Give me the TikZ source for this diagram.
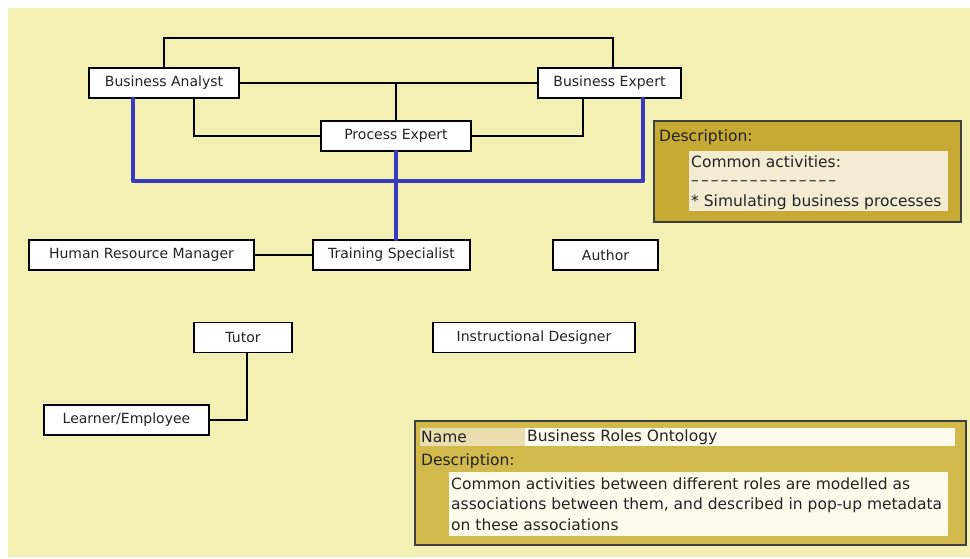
\documentclass[tikz,border=0pt]{standalone}
\usepackage{fontspec}
\setmainfont{DejaVu Sans}
\definecolor{bgyellow}{RGB}{243,240,180}
\definecolor{gold1}{RGB}{199,170,52}
\definecolor{gold2}{RGB}{210,185,75}
\definecolor{panel1}{RGB}{243,236,210}
\definecolor{panel2}{RGB}{252,251,236}
\definecolor{nametag}{RGB}{234,222,176}
\definecolor{assocblue}{RGB}{58,58,190}
\definecolor{txt}{RGB}{35,35,35}
\newcommand\dsh{\makebox[9.8pt][l]{\char"2013}}
\begin{document}
\begin{tikzpicture}[x=1pt,y=-1pt,
  role/.style={draw=black,line width=1.4pt,fill=white,minimum height=30pt,inner sep=0pt,
    font=\fontsize{14}{16}\selectfont,text=txt},
  link/.style={draw=black,line width=1.1pt},
  assoc/.style={draw=assocblue,line width=4pt},
  meta/.style={anchor=west,inner sep=0pt,font=\fontsize{15.5}{17}\selectfont,text=txt},
  boxline/.style={draw=black!75,line width=1.2pt}]
\useasboundingbox (0,0) rectangle (970,558);
\fill[bgyellow] (8,8) rectangle (970,557);
% role nodes
\node[role,minimum width=150pt] (BA) at (164,83) {Business Analyst};
\node[role,minimum width=143pt] (BE) at (609.5,83) {Business Expert};
\node[role,minimum width=150pt] (PE) at (396,136) {Process Expert};
\node[role,minimum width=225pt] (HRM) at (141.5,255) {Human Resource Manager};
\node[role,minimum width=157pt] (TS) at (391.5,255) {Training Specialist};
\node[role,minimum width=105pt] (AU) at (605.5,255) {Author};
\node[role,minimum width=98pt] (TU) at (243,337.5) {Tutor};
\node[role,minimum width=202pt] (ID) at (534,337.5) {Instructional Designer};
\node[role,minimum width=165pt] (LE) at (126.5,420) {Learner/Employee};
% connectors
\draw[link] (BA.north) -- (BA.north |- 0,38) -| ([xshift=3.5pt]BE.north);
\draw[link] (BA.east) -- (BE.west);
\draw[link] (PE.north) -- (PE.north |- BA.east);
\draw[link] ([xshift=30pt]BA.south) |- (PE.west);
\draw[link] (PE.east) -| ([xshift=-26.5pt]BE.south);
\draw[link] (HRM.east) -- (TS.west);
\draw[link] ([xshift=4pt]TU.south) |- (LE.east);
\draw[assoc,line join=round,line cap=round] ([xshift=-31pt]BA.south) -- ([xshift=-31pt]BA.south |- 0,181) -| ([xshift=33.5pt]BE.south);
\draw[assoc,line cap=round] (PE.south) -- (PE.south |- TS.north);
% description box 1
\draw[boxline,fill=gold1] (654,121) rectangle (961,222);
\node[meta] (d1) at (659,137) {Description:};
\fill[panel1] (689,151) rectangle (948,211);
\node[meta] (d1a) at (691,162) {Common activities:};
\node[meta] (d1b) at (691,183) {\dsh\dsh\dsh\dsh\dsh\dsh\dsh\dsh\dsh\dsh\dsh\dsh\dsh\dsh\dsh};
\node[meta] (d1c) at (691,202) {* Simulating business processes};
% description box 2
\draw[boxline,fill=gold2] (415,421) rectangle (966,545);
\fill[nametag] (420,428) rectangle (525,446);
\fill[panel2] (525,428) rectangle (955,446);
\node[meta] (n1) at (421,437) {Name};
\node[meta] (n2) at (527,437) {Business Roles Ontology};
\node[meta] (d2) at (421,461) {Description:};
\fill[panel2] (449,472) rectangle (948,536);
\node[meta] (d2a) at (451,484) {Common activities between different roles are modelled as};
\node[meta] (d2b) at (451,505) {associations between them, and described in pop-up metadata};
\node[meta] (d2c) at (451,525) {on these associations};
\end{tikzpicture}
\end{document}
